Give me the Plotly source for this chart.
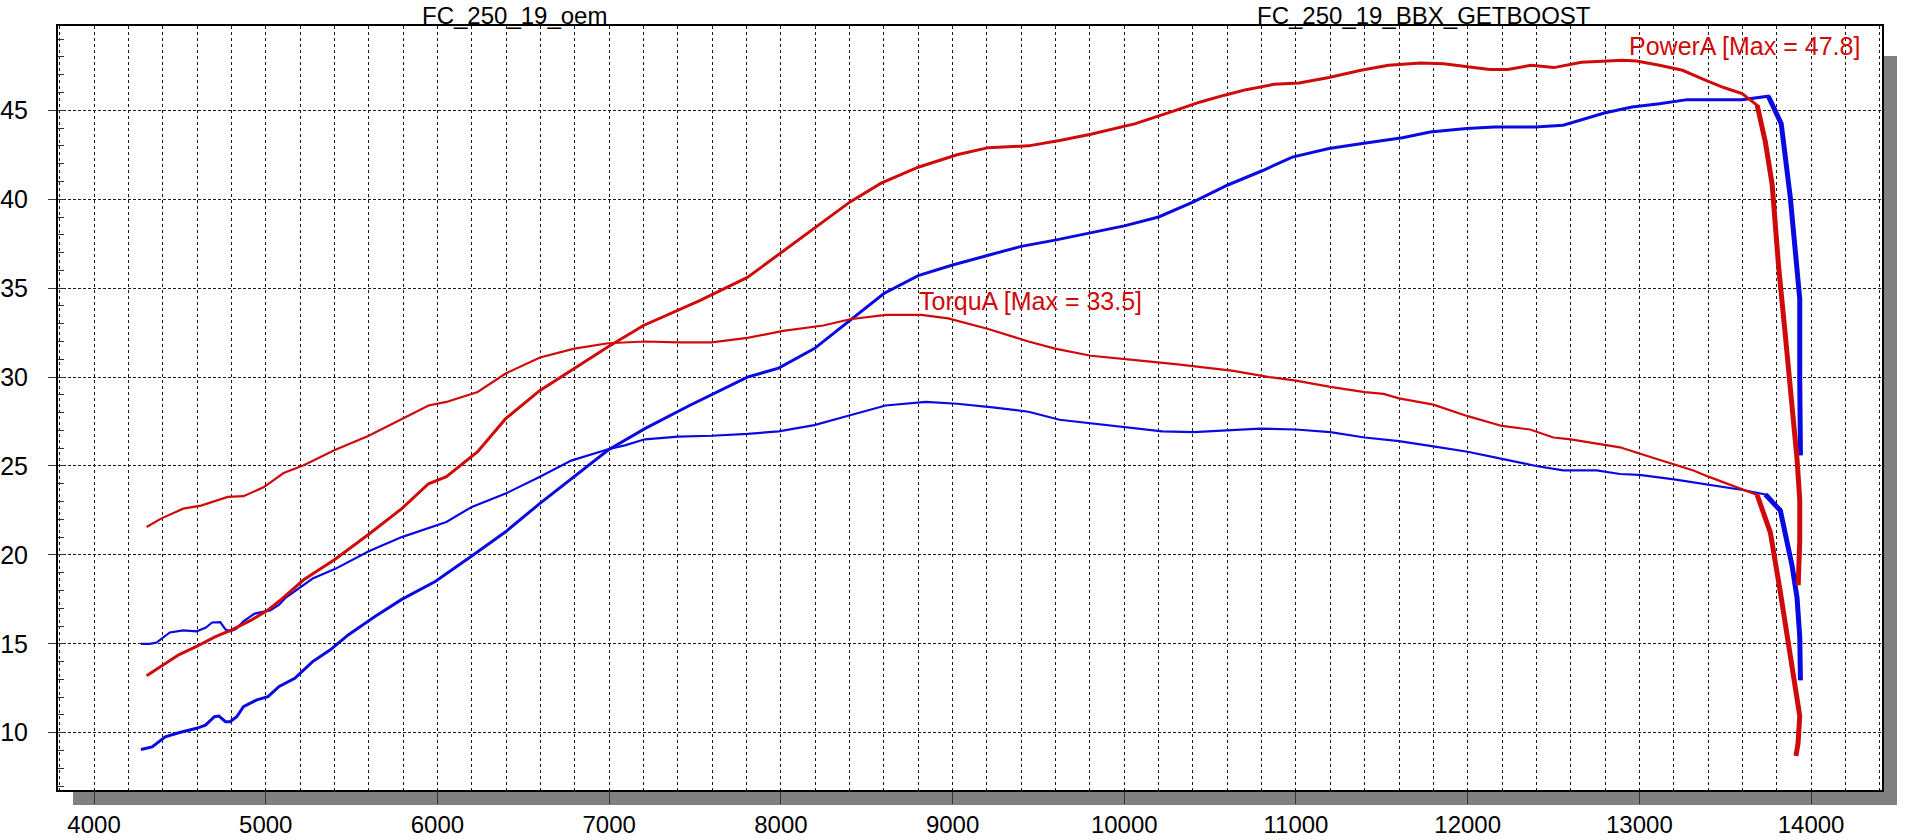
import plotly.graph_objects as go

# ---------------- data ----------------
bbx_power_rpm = [4306, 4390, 4493, 4597, 4701, 4805, 4909, 5013, 5091, 5221, 5402, 5600, 5792, 5948,
                 6052, 6234, 6397, 6597, 6797, 6994, 7200, 7402, 7527, 7805, 7987, 8195, 8403, 8584,
                 8800, 9026, 9208, 9442, 9623, 9805, 10065, 10299, 10443, 10584, 10710, 10871, 11018,
                 11192, 11379, 11539, 11727, 11860, 11994, 12128, 12234, 12368, 12502, 12662, 12903,
                 12983, 13117, 13251, 13384, 13491, 13598, 13686, 13734, 13773, 13811, 13850, 13889,
                 13918, 13934, 13934, 13925]
bbx_power = [13.2, 13.72, 14.38, 14.85, 15.38, 15.8, 16.3, 16.9, 17.5, 18.6, 19.74, 21.16, 22.6, 24.0,
             24.4, 25.8, 27.66, 29.25, 30.47, 31.7, 32.9, 33.75, 34.3, 35.6, 36.9, 38.4, 39.85, 40.9,
             41.8, 42.5, 42.9, 43.0, 43.3, 43.65, 44.25, 45.0, 45.47, 45.85, 46.16, 46.46, 46.54,
             46.84, 47.25, 47.53, 47.66, 47.62, 47.47, 47.29, 47.29, 47.53, 47.4, 47.7, 47.81,
             47.77, 47.53, 47.25, 46.69, 46.28, 45.94, 45.28, 43.2, 40.85, 36.2, 32.35, 28.5,
             25.4, 23.1, 20.8, 18.3]

bbx_torque_rpm = [4306, 4390, 4519, 4623, 4779, 4870, 4987, 5104, 5221, 5402, 5600, 5792, 5948, 6052,
                  6234, 6397, 6597, 6797, 6994, 7208, 7403, 7597, 7805, 8013, 8247, 8403, 8610, 8818,
                  8974, 9208, 9442, 9597, 9805, 10065, 10325, 10636, 10844, 11000, 11200, 11400,
                  11510, 11600, 11800, 12000, 12200, 12363, 12499, 12600, 12798, 12887, 13000, 13202,
                  13315, 13402, 13509, 13635, 13686, 13763, 13821, 13879, 13918, 13934, 13924, 13912]
bbx_torque = [21.57, 22.04, 22.6, 22.77, 23.26, 23.3, 23.8, 24.6, 25.04, 25.9, 26.7, 27.66, 28.4, 28.6,
              29.16, 30.2, 31.1, 31.6, 31.9, 32.0, 31.95, 31.95, 32.2, 32.6, 32.9, 33.25, 33.5, 33.5,
              33.3, 32.7, 32.0, 31.6, 31.2, 30.95, 30.7, 30.35, 30.0, 29.8, 29.45, 29.15,
              29.05, 28.8, 28.45, 27.8, 27.25, 27.05, 26.6, 26.5, 26.2, 26.05, 25.7, 25.1,
              24.75, 24.4, 24.0, 23.55, 23.37, 21.25, 17.9, 14.55, 12.0, 10.95, 9.4, 8.7]

oem_power_rpm = [4273, 4338, 4415, 4493, 4597, 4649, 4701, 4727, 4766, 4792, 4831, 4870, 4948, 5013,
                 5078, 5169, 5273, 5376, 5480, 5636, 5792, 5987, 6208, 6397, 6597, 6797, 6994, 7208,
                 7468, 7805, 7987, 8195, 8403, 8600, 8800, 9000, 9208, 9400, 9597, 9805, 10000, 10200,
                 10403, 10603, 10803, 10979, 11192, 11406, 11620, 11781, 11994, 12155, 12395, 12556,
                 12689, 12796, 12957, 13117, 13278, 13598, 13751, 13826, 13879, 13918, 13934, 13934,
                 13938]
oem_power = [9.06, 9.2, 9.77, 10.0, 10.25, 10.43, 10.9, 10.94, 10.62, 10.62, 10.9, 11.47, 11.85, 12.03,
             12.6, 13.06, 14.0, 14.66, 15.5, 16.54, 17.5, 18.5, 20.0, 21.3, 22.9, 24.4, 25.9, 27.1,
             28.4, 30.0, 30.5, 31.6, 33.2, 34.7, 35.7, 36.3, 36.85, 37.35, 37.7, 38.1, 38.5, 39.0,
             39.85, 40.8, 41.6, 42.37, 42.85, 43.16, 43.46, 43.78, 43.97, 44.06, 44.06, 44.16,
             44.53, 44.85, 45.19, 45.37, 45.6, 45.6, 45.79, 44.25, 40.1, 36.2, 34.4, 29.8,
             25.6]

oem_torque_rpm = [4273, 4325, 4364, 4441, 4519, 4597, 4649, 4688, 4735, 4766, 4792, 4826, 4870, 4935,
                  5026, 5078, 5117, 5273, 5402, 5600, 5792, 6052, 6200, 6397, 6597, 6779, 6994, 7091,
                  7208, 7403, 7597, 7805, 7987, 8195, 8403, 8610, 8844, 9026, 9234, 9442, 9623, 9805,
                  10013, 10221, 10403, 10584, 10792, 11000, 11200, 11400, 11600, 11800, 12000, 12200,
                  12398, 12557, 12751, 12887, 13000, 13202, 13402, 13602, 13734, 13821, 13889, 13918,
                  13934, 13938]
oem_torque = [15.0, 15.0, 15.07, 15.64, 15.75, 15.7, 15.9, 16.2, 16.22, 15.8, 15.7, 15.83, 16.26, 16.7,
              16.88, 17.2, 17.6, 18.67, 19.2, 20.2, 21.0, 21.85, 22.7, 23.45, 24.4, 25.3, 25.94, 26.16,
              26.5, 26.65, 26.7, 26.8, 26.95, 27.3, 27.85, 28.4, 28.6, 28.5, 28.3, 28.05, 27.6, 27.4,
              27.2, 26.95, 26.9, 27.0, 27.1, 27.05, 26.9, 26.6, 26.4, 26.1, 25.8, 25.4,
              25.0, 24.75, 24.75, 24.55, 24.5, 24.25, 23.95, 23.65, 23.4, 22.5, 19.4, 17.6,
              15.4, 12.95]

run_titles = ["FC_250_19_oem", "FC_250_19_BBX_GETBOOST"]
power_max_label = "PowerA [Max = 47.8]"
torque_max_label = "TorquA [Max = 33.5]"
power_label_pos = (13611, 48.6)
torque_label_pos = (9456, 34.25)
x_range = [3790, 14413]
y_range = [6.78, 49.74]
x_ticks = [4000, 5000, 6000, 7000, 8000, 9000, 10000, 11000, 12000, 13000, 14000]
x_tick_text = [str(v) for v in x_ticks]
y_ticks = [10, 15, 20, 25, 30, 35, 40, 45]
y_tick_text = [str(v) for v in y_ticks]
drop_start = 13680  # rpm from which the run-down segment is drawn heavier

RED = "#cf0a0a"
BLUE = "#0a0ae0"
FONT = "Liberation Sans, Arial, sans-serif"

fig = go.Figure()


def add_series(rpm, vals, color, width, drop_width):
    fig.add_trace(go.Scatter(x=rpm, y=vals, mode="lines",
                             line=dict(color=color, width=width), hoverinfo="skip",
                             showlegend=False))
    idx = [i for i, r in enumerate(rpm) if r >= drop_start]
    if idx:
        s = idx[0]
        fig.add_trace(go.Scatter(x=rpm[s:], y=vals[s:], mode="lines",
                                 line=dict(color=color, width=drop_width), hoverinfo="skip",
                                 showlegend=False))


add_series(oem_torque_rpm, oem_torque, BLUE, 2.2, 5)
add_series(oem_power_rpm, oem_power, BLUE, 3, 5)
add_series(bbx_torque_rpm, bbx_torque, RED, 2.2, 5)
add_series(bbx_power_rpm, bbx_power, RED, 3, 5)

grid_col = "#1a1a1a"
fig.update_xaxes(range=x_range, tickvals=x_ticks, ticktext=x_tick_text, showgrid=True,
                 gridcolor=grid_col, gridwidth=1, griddash="3px,3px", ticks="outside", ticklen=12,
                 tickcolor="#333", tickwidth=1, automargin=False,
                 showline=True, linecolor="black", linewidth=2, mirror=True, zeroline=False,
                 tickfont=dict(family=FONT, size=24, color="black"),
                 minor=dict(dtick=200, showgrid=True, gridcolor=grid_col, gridwidth=1,
                            griddash="3px,3px", ticks=""))
fig.update_yaxes(range=y_range, tickvals=y_ticks, ticktext=y_tick_text, showgrid=True,
                 gridcolor=grid_col, gridwidth=1, griddash="3px,2px", ticks="outside", ticklen=8,
                 tickcolor="#333", tickwidth=1, ticklabelstandoff=15, automargin=False,
                 showline=True, linecolor="black", linewidth=2, mirror=True, zeroline=False,
                 tickfont=dict(family=FONT, size=25, color="black"),
                 minor=dict(dtick=1, ticks="inside", ticklen=6, tickcolor="#333", showgrid=False))

shadow = "#808080"
fig.add_shape(type="rect", xref="paper", yref="paper", xsizemode="pixel", ysizemode="pixel",
              xanchor=1, yanchor=0, x0=0, x1=15, y0=-15, y1=734,
              fillcolor=shadow, line_width=0, layer="below")
fig.add_shape(type="rect", xref="paper", yref="paper", ysizemode="pixel",
              yanchor=0, x0=0.00822, x1=1.00822, y0=-15, y1=0,
              fillcolor=shadow, line_width=0, layer="below")

for xp, t in zip([0.25, 0.749], run_titles):
    fig.add_annotation(text=t, xref="paper", yref="paper", x=xp, y=1.0336,
                       xanchor="center", yanchor="top", showarrow=False,
                       font=dict(family=FONT, size=24, color="black"))

fig.add_annotation(text=power_max_label, x=power_label_pos[0], y=power_label_pos[1],
                   xanchor="center", yanchor="middle", showarrow=False,
                   font=dict(family=FONT, size=25, color=RED))
fig.add_annotation(text=torque_max_label, x=torque_label_pos[0], y=torque_label_pos[1],
                   xanchor="center", yanchor="middle", showarrow=False,
                   font=dict(family=FONT, size=25, color=RED))

fig.update_layout(width=1920, height=840, margin=dict(l=58, r=38, t=26, b=50, autoexpand=False),
                  paper_bgcolor="white", plot_bgcolor="white", showlegend=False)

fig.write_html("out.html", config={"displayModeBar": False})
